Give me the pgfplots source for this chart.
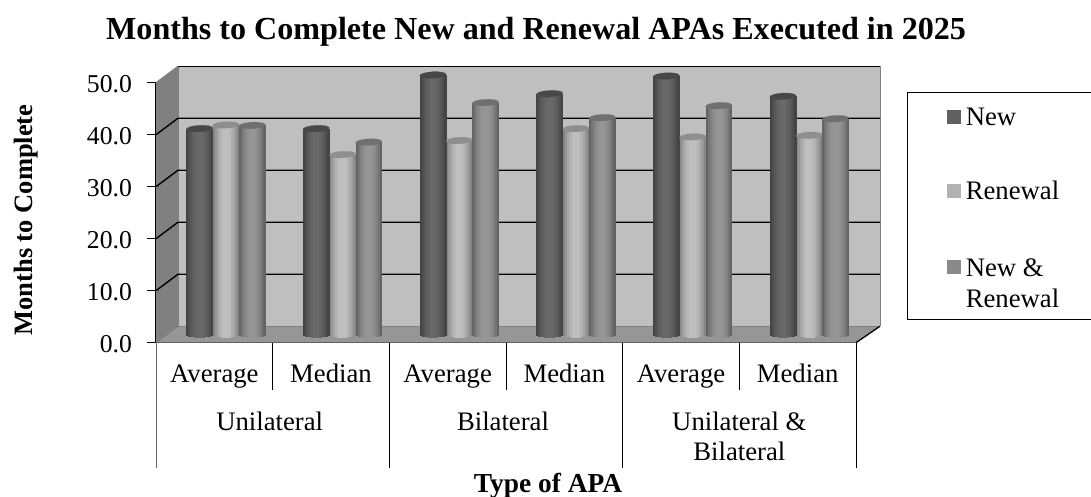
\documentclass[border=0pt]{standalone}
\usepackage{fontspec}
\setmainfont{Liberation Serif}
\usepackage{pgfplots}
\pgfplotsset{compat=1.18}
\definecolor{dkT}{HTML}{484848}\definecolor{ltT}{HTML}{8E8E8E}\definecolor{mdT}{HTML}{707070}
\def\dkE{0.24}\def\dkM{0.41}
\def\ltE{0.48}\def\ltM{0.75}
\def\mdE{0.36}\def\mdM{0.59}
\newcommand{\lf}{\fontsize{26.7}{31}\selectfont}
% one cylinder: x, value, colour prefix (thin vertical strips give the round look)
\newcommand{\cyl}[3]{%
  \foreach \i in {0,...,12}{%
    \pgfmathsetmacro\tt{-1+(2*\i+1)/13}%
    \pgfmathsetmacro\gg{\csname #3E\endcsname+(\csname #3M\endcsname-\csname #3E\endcsname)*(1-abs(\tt)^2)}%
    \pgfmathsetmacro\xa{#1-0.1131+\i*0.0174}%
    \pgfmathsetmacro\xb{\xa+0.0214}%
    \pgfmathsetmacro\yb{-0.635*sqrt(1-\tt*\tt)}%
    \edef\tmp{\noexpand\addplot[forget plot,draw=none,fill={rgb,1:red,\gg;green,\gg;blue,\gg}] coordinates {(\xa,\yb) (\xa,#2) (\xb,#2) (\xb,\yb)} -- cycle;}\tmp
  }%
  \addplot[forget plot,only marks,mark=*,mark size=13.2pt,mark options={rotate=3,yscale=0.25,fill=#3T,draw=#3T,line width=0.1pt}] coordinates {(#1,#2)};
}
\begin{document}
\begin{tikzpicture}
\path[use as bounding box] (0pt,0pt) rectangle (1091pt,497pt);
\begin{axis}[
  name=front, scale only axis, width=700pt, height=260pt,
  at={(156pt,154.3pt)}, anchor=south west, clip=false,
  xmin=0,xmax=6,ymin=0,ymax=50,
  axis x line*=bottom, axis y line*=left,
  axis line style={black,line width=1.4pt,-},
  xtick={0.5,1.5,2.5,3.5,4.5,5.5},
  xticklabels={Average,Median,Average,Median,Average,Median},
  x tick style={draw=none}, major x tick style={draw=none},
  xticklabel style={font=\lf,yshift=-6pt},
  typeset ticklabels with strut,
  ytick={0,10,20,30,40,50},
  y tick style={black,line width=1.2pt},
  tick align=outside, tickwidth=8.5pt,
  yticklabel style={font=\fontsize{25.7}{30}\selectfont,xshift=-12pt,yshift=-3.5pt},
  /pgf/number format/assume math mode=true,
  /pgf/number format/fixed, /pgf/number format/fixed zerofill, /pgf/number format/precision=1,
  title={\fontsize{32.1}{36}\selectfont\bfseries Months to Complete New and Renewal APAs Executed in 2025},
  title style={at={(axis description cs:0.543,1.172)},anchor=base,yshift=-8pt},
  xlabel={\fontsize{27.4}{30}\selectfont\bfseries Type of APA},
  xlabel style={at={(axis description cs:0.56,-0.578)},anchor=base},
  ylabel={\fontsize{26.5}{30}\selectfont\bfseries Months to Complete},
  ylabel style={at={(axis description cs:-0.177,0.472)},anchor=base},
]
% walls
\fill[fill=black!50] (axis cs:0,0) -- (axis cs:0.1886,3.17) -- (axis cs:0.1886,53.17) -- (axis cs:0,50) -- cycle;
\fill[fill=black!25] (axis cs:0.1886,3.17) -- (axis cs:6.206,3.17) -- (axis cs:6.206,53.17) -- (axis cs:0.1886,53.17) -- cycle;
\fill[fill=black!41] (axis cs:0,0) -- (axis cs:0.1886,3.17) -- (axis cs:6.206,3.17) -- (axis cs:6,0) -- cycle;
\draw[black!50,line width=1pt] (axis cs:6.206,3.17) -- (axis cs:6.206,53.17);
\draw[black!50,line width=1pt] (axis cs:0.1886,3.17) -- (axis cs:0.1886,53.17);
\draw[black!50,line width=1pt] (axis cs:0.1886,3.17) -- (axis cs:6.206,3.17);
\draw[black!50,line width=1pt] (axis cs:0,50) -- (axis cs:0.1886,53.17);
\draw[black!50,line width=1pt] (axis cs:0,0) -- (axis cs:0.1886,3.17);
\draw[black,line width=1.3pt] (axis cs:6,0) -- (axis cs:6.206,3.17);
\foreach \v in {10,20,30,40}{
  \edef\tmp{\noexpand\draw[black,line width=1.4pt] (axis cs:0,\v) -- (axis cs:0.1886,\v+3.17) -- (axis cs:6.206,\v+3.17);}\tmp
}
\draw[black,line width=1.4pt] (axis cs:0.1886,53.17) -- (axis cs:6.206,53.17);
% multilevel category separators
\draw[black,line width=1pt] (axis cs:1,0) -- ++(0,-47.3pt);
\draw[black,line width=1pt] (axis cs:3,0) -- ++(0,-47.3pt);
\draw[black,line width=1pt] (axis cs:5,0) -- ++(0,-47.3pt);
\draw[black!60,line width=1pt] (axis cs:0,0) -- ++(0,-125pt);
\draw[black,line width=1pt] (axis cs:2,0) -- ++(0,-125pt);
\draw[black,line width=1pt] (axis cs:4,0) -- ++(0,-125pt);
\draw[black,line width=1pt] (axis cs:6,0) -- ++(0,-125pt);
\node[font=\lf,anchor=base,xshift=-3pt] at ([yshift=-87.3pt]axis cs:1,0) {Unilateral};
\node[font=\lf,anchor=base,xshift=-3pt] at ([yshift=-87.3pt]axis cs:3,0) {Bilateral};
\node[font=\lf,anchor=base] at ([yshift=-87.3pt]axis cs:5,0) {Unilateral \&};
\node[font=\lf,anchor=base] at ([yshift=-117.3pt]axis cs:5,0) {Bilateral};
\end{axis}
\begin{axis}[
  scale only axis, width=700pt, height=260pt,
  at={(167.5pt,162.5pt)}, anchor=south west, clip=false,
  xmin=0,xmax=6,ymin=0,ymax=50,
  hide axis,
  legend image code/.code={\fill[#1,draw=none] (0pt,-7pt) rectangle (14pt,7pt);},
  legend cell align=left,
  legend style={at={(axis description cs:1.113,0.88)},anchor=north west,draw=none,fill=none,
    font=\lf,row sep=50pt,column sep=3pt,inner sep=0pt},
]
\addlegendimage{fill=black!62}\addlegendentry{New}
\addlegendimage{fill=black!30}\addlegendentry{Renewal}
\addlegendimage{fill=black!46}\addlegendentry{\begin{tabular}[t]{@{}l@{}}New \&\\[0pt]Renewal\end{tabular}}
% Unilateral Average
\cyl{0.5}{40.3}{lt}\cyl{0.2746}{39.6}{dk}\cyl{0.7254}{40.2}{md}
% Unilateral Median
\cyl{1.5}{34.6}{lt}\cyl{1.2746}{39.6}{dk}\cyl{1.7254}{37.0}{md}
% Bilateral Average
\cyl{2.5}{37.3}{lt}\cyl{2.2746}{49.9}{dk}\cyl{2.7254}{44.6}{md}
% Bilateral Median
\cyl{3.5}{39.6}{lt}\cyl{3.2746}{46.3}{dk}\cyl{3.7254}{41.7}{md}
% Both Average
\cyl{4.5}{38.0}{lt}\cyl{4.2746}{49.7}{dk}\cyl{4.7254}{44.0}{md}
% Both Median
\cyl{5.5}{38.3}{lt}\cyl{5.2746}{45.8}{dk}\cyl{5.7254}{41.5}{md}
\end{axis}
\draw[black,line width=1pt] (1091pt,404pt) -- (907pt,404pt) -- (907pt,177pt) -- (1091pt,177pt);
\end{tikzpicture}
\end{document}
